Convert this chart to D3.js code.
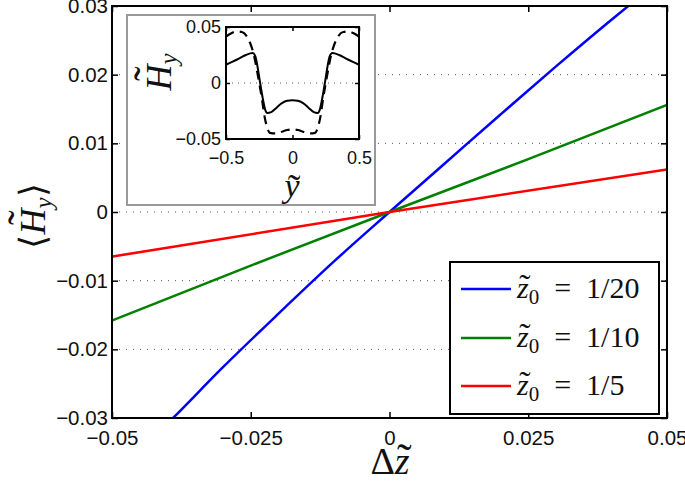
<!DOCTYPE html>
<html>
<head>
<meta charset="UTF-8">
<script src="https://d3js.org/d3.v7.min.js"></script>
<style>
    body { margin: 0; background: #fff; }
    svg { display: block; }
    .tick text { font-family: "Liberation Sans", Arial, sans-serif; fill: #111; }
    .math { font-family: "Liberation Serif", "Times New Roman", serif; fill: #111; }
</style>
</head>
<body>
<div id="chart"></div>
<script>
    // main curves: <H_y> against delta z, one per z0
    var blueDz  = [-0.045, -0.039, -0.03, -0.02, -0.01, 0, 0.01, 0.02, 0.03, 0.04, 0.045];
    var blueHy  = [-0.0348, -0.030, -0.0226, -0.0148, -0.0072, 0, 0.0071, 0.0142, 0.0212, 0.028, 0.0313];
    var greenDz = [-0.05, -0.025, 0, 0.025, 0.05];
    var greenHy = [-0.0158, -0.0078, 0, 0.0077, 0.0156];
    var redDz   = [-0.05, 0, 0.05];
    var redHy   = [-0.0065, 0, 0.0062];

    var seriesNames  = ["1/20", "1/10", "1/5"];
    var seriesColors = ["#0000ff", "#008000", "#ff0000"];

    var xTicks = [-0.05, -0.025, 0, 0.025, 0.05];
    var xTickLabels = ["\u22120.05", "\u22120.025", "0", "0.025", "0.05"];
    var yTicks = [-0.03, -0.02, -0.01, 0, 0.01, 0.02, 0.03];
    var yTickLabels = ["\u22120.03", "\u22120.02", "\u22120.01", "0", "0.01", "0.02", "0.03"];
    var gridValues = [-0.02, -0.01, 0, 0.01, 0.02];

    // inset: H_y profile across y
    var solidY = [-0.5, -0.45, -0.4, -0.35, -0.3, -0.28, -0.265, -0.25, -0.235, -0.22, -0.205, -0.19, -0.16, -0.12, -0.08, -0.04, 0,
                  0.04, 0.08, 0.12, 0.16, 0.19, 0.205, 0.22, 0.235, 0.25, 0.265, 0.28, 0.3, 0.35, 0.4, 0.45, 0.5];
    var solidH = [0.0163, 0.019, 0.022, 0.025, 0.0267, 0.024, 0.016, 0.005, -0.006, -0.016, -0.024, -0.0267, -0.026, -0.022, -0.018, -0.0158, -0.0154,
                  -0.0158, -0.018, -0.022, -0.026, -0.0267, -0.024, -0.016, -0.006, 0.005, 0.016, 0.024, 0.0267, 0.025, 0.022, 0.019, 0.0163];
    var dashY = [-0.5, -0.46, -0.42, -0.38, -0.34, -0.31, -0.29, -0.27, -0.25, -0.23, -0.21, -0.19, -0.17, -0.13, -0.08, -0.04, 0,
                 0.04, 0.08, 0.13, 0.17, 0.19, 0.21, 0.23, 0.25, 0.27, 0.29, 0.31, 0.34, 0.38, 0.42, 0.46, 0.5];
    var dashH = [0.0415, 0.0445, 0.046, 0.0455, 0.041, 0.033, 0.025, 0.013, 0.0, -0.014, -0.030, -0.040, -0.0445, -0.045, -0.0435, -0.042, -0.0415,
                 -0.042, -0.0435, -0.045, -0.0445, -0.040, -0.030, -0.014, 0.0, 0.013, 0.025, 0.033, 0.041, 0.0455, 0.046, 0.0445, 0.0415];

    var insetXTicks = [-0.5, 0, 0.5];
    var insetXLabels = ["\u22120.5", "0", "0.5"];
    var insetYTicks = [-0.05, 0, 0.05];
    var insetYLabels = ["\u22120.05", "0", "0.05"];

    var width = 685, height = 481;
    var svg = d3.select("#chart").append("svg")
        .attr("width", width).attr("height", height);

    var x = d3.scaleLinear().domain([-0.05, 0.05]).range([112, 667]);
    var y = d3.scaleLinear().domain([-0.03, 0.03]).range([418, 6]);

    svg.append("clipPath").attr("id", "clip")
        .append("rect").attr("x", 112).attr("y", 6).attr("width", 555).attr("height", 412);

    // dotted grid lines
    svg.selectAll(".grid").data(gridValues).enter().append("line")
        .attr("x1", x(-0.05)).attr("x2", x(0.05))
        .attr("y1", d => y(d)).attr("y2", d => y(d))
        .style("stroke", "#555").style("stroke-width", 1).style("stroke-dasharray", "1,6");

    var line = d3.line().x(d => x(d[0])).y(d => y(d[1])).curve(d3.curveMonotoneX);
    var curves = [d3.zip(blueDz, blueHy), d3.zip(greenDz, greenHy), d3.zip(redDz, redHy)];
    svg.append("g").attr("clip-path", "url(#clip)")
        .selectAll("path").data(curves).enter().append("path")
        .attr("d", line)
        .style("fill", "none")
        .style("stroke", (d, i) => seriesColors[i])
        .style("stroke-width", 2.5);

    // axes with inward ticks on all four sides
    var xb = svg.append("g").attr("transform", "translate(0,418)")
        .call(d3.axisBottom(x).tickValues(xTicks).tickFormat((d, i) => xTickLabels[i]).tickSize(-6).tickSizeOuter(0).tickPadding(12));
    var yl = svg.append("g").attr("transform", "translate(112,0)")
        .call(d3.axisLeft(y).tickValues(yTicks).tickFormat((d, i) => yTickLabels[i]).tickSize(-6).tickSizeOuter(0).tickPadding(4));
    var xt = svg.append("g").attr("transform", "translate(0,6)")
        .call(d3.axisTop(x).tickValues(xTicks).tickFormat("").tickSize(-6).tickSizeOuter(0));
    var yr = svg.append("g").attr("transform", "translate(667,0)")
        .call(d3.axisRight(y).tickValues(yTicks).tickFormat("").tickSize(-6).tickSizeOuter(0));
    [xb, yl, xt, yr].forEach(function (g) {
        g.select(".domain").remove();
        g.selectAll(".tick line").style("stroke", "#000").style("stroke-width", 1.5);
        g.selectAll(".tick text").style("font-size", "20.5px");
    });
    svg.append("rect").attr("x", 112).attr("y", 6).attr("width", 555).attr("height", 412)
        .style("fill", "none").style("stroke", "#000").style("stroke-width", 2);

    // helper: tilde accent above one character of a text element
    function addTilde(parent, textSel, idx, baseY, lift, size, shift) {
        var ext = textSel.node().getExtentOfChar(idx);
        parent.append("text").attr("class", "math")
            .attr("x", ext.x + ext.width / 2 + shift)
            .attr("y", baseY - lift)
            .attr("text-anchor", "middle")
            .style("font-size", size + "px")
            .text("\u02DC");
    }

    // main y label <H_y>
    var gy = svg.append("g").attr("transform", "translate(45,216) rotate(-90)");
    var ty = gy.append("text").attr("class", "math").attr("text-anchor", "middle").style("font-size", "36px");
    ty.append("tspan").text("\u27E8");
    ty.append("tspan").style("font-style", "italic").text("H");
    ty.append("tspan").style("font-style", "italic").style("font-size", "25px").attr("dy", 7).text("y");
    ty.append("tspan").attr("dy", -7).text("\u27E9");
    addTilde(gy, ty, 1, 0, 7, 44, 4);

    // main x label delta z
    var gx = svg.append("g");
    var tx = gx.append("text").attr("class", "math").attr("x", 390).attr("y", 474)
        .attr("text-anchor", "middle").style("font-size", "38px");
    tx.append("tspan").text("\u0394");
    tx.append("tspan").style("font-style", "italic").text("z");
    addTilde(gx, tx, 1, 474, 0, 44, 2);

    // inset panel
    var ix = d3.scaleLinear().domain([-0.5, 0.5]).range([226, 359]);
    var iy = d3.scaleLinear().domain([-0.05, 0.05]).range([139, 27]);
    var inset = svg.append("g");
    inset.append("rect").attr("x", 127).attr("y", 15).attr("width", 248).attr("height", 190)
        .style("fill", "#fff").style("stroke", "#999").style("stroke-width", 2);
    inset.append("line").attr("x1", ix(-0.5)).attr("x2", ix(0.5)).attr("y1", iy(0)).attr("y2", iy(0))
        .style("stroke", "#555").style("stroke-width", 1).style("stroke-dasharray", "1,5");
    var iline = d3.line().x(d => ix(d[0])).y(d => iy(d[1])).curve(d3.curveMonotoneX);
    inset.append("path").datum(d3.zip(dashY, dashH)).attr("d", iline)
        .style("fill", "none").style("stroke", "#000").style("stroke-width", 2.2).style("stroke-dasharray", "9,6");
    inset.append("path").datum(d3.zip(solidY, solidH)).attr("d", iline)
        .style("fill", "none").style("stroke", "#000").style("stroke-width", 2);

    var ixb = inset.append("g").attr("transform", "translate(0,139)")
        .call(d3.axisBottom(ix).tickValues(insetXTicks).tickFormat((d, i) => insetXLabels[i]).tickSize(-4).tickSizeOuter(0).tickPadding(12));
    var iyl = inset.append("g").attr("transform", "translate(226,0)")
        .call(d3.axisLeft(iy).tickValues(insetYTicks).tickFormat((d, i) => insetYLabels[i]).tickSize(-4).tickSizeOuter(0).tickPadding(5));
    var ixt = inset.append("g").attr("transform", "translate(0,27)")
        .call(d3.axisTop(ix).tickValues(insetXTicks).tickFormat("").tickSize(-4).tickSizeOuter(0));
    var iyr = inset.append("g").attr("transform", "translate(359,0)")
        .call(d3.axisRight(iy).tickValues(insetYTicks).tickFormat("").tickSize(-4).tickSizeOuter(0));
    [ixb, iyl, ixt, iyr].forEach(function (g) {
        g.select(".domain").remove();
        g.selectAll(".tick line").style("stroke", "#000").style("stroke-width", 1.5);
        g.selectAll(".tick text").style("font-size", "18px");
    });
    inset.append("rect").attr("x", 226).attr("y", 27).attr("width", 133).attr("height", 112)
        .style("fill", "none").style("stroke", "#000").style("stroke-width", 2);

    var giy = inset.append("g").attr("transform", "translate(171,72) rotate(-90)");
    var tiy = giy.append("text").attr("class", "math").attr("text-anchor", "middle").style("font-size", "36px");
    tiy.append("tspan").style("font-style", "italic").text("H");
    tiy.append("tspan").style("font-style", "italic").style("font-size", "25px").attr("dy", 6).text("y");
    addTilde(giy, tiy, 0, 0, 7, 44, 4);

    var tix = inset.append("text").attr("class", "math").attr("x", 292).attr("y", 197)
        .attr("text-anchor", "middle").style("font-size", "34px").style("font-style", "italic").text("y");
    addTilde(inset, tix, 0, 197, -4, 38, 2);

    // legend
    var legend = svg.append("g");
    legend.append("rect").attr("x", 450).attr("y", 262).attr("width", 209).attr("height", 152)
        .style("fill", "#fff").style("stroke", "#000").style("stroke-width", 2);
    var rowY = [289, 338, 386];
    seriesNames.forEach(function (name, i) {
        legend.append("line").attr("x1", 461).attr("x2", 511).attr("y1", rowY[i]).attr("y2", rowY[i])
            .style("stroke", seriesColors[i]).style("stroke-width", 2.5);
        var bl = rowY[i] + 9;
        var t = legend.append("text").attr("class", "math").attr("x", 517).attr("y", bl).style("font-size", "30px");
        t.append("tspan").style("font-style", "italic").text("z");
        t.append("tspan").style("font-size", "21px").attr("dy", 6).text("0");
        t.append("tspan").attr("dy", -6).text("\u2002=\u2002" + name);
        addTilde(legend, t, 0, bl, 0, 34, 2);
    });
</script>
</body>
</html>
